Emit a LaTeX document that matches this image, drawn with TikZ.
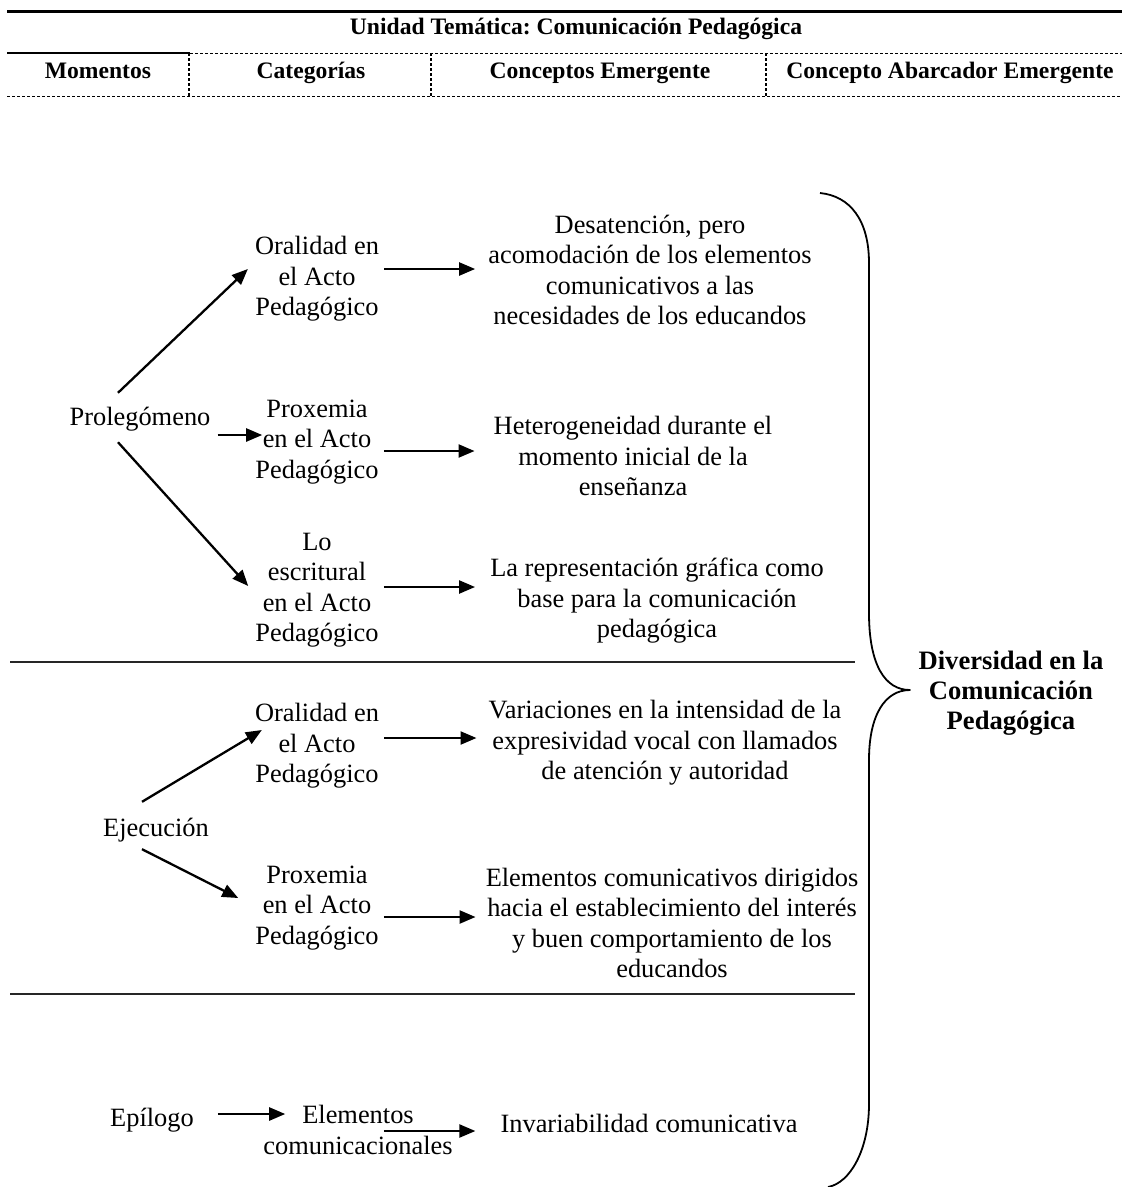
\documentclass[tikz,border=0pt]{standalone}
\usepackage{fontspec}
\setmainfont{Liberation Serif}
\usetikzlibrary{arrows.meta}
\frenchspacing

\begin{document}
\begin{tikzpicture}[x=1pt, y=-1pt, line join=round,
		txt/.style={align=center, inner sep=0pt, font=\fontsize{26.4}{30.5}\selectfont},
		hd/.style={anchor=base, inner sep=0pt, font=\fontsize{23.6}{27}\selectfont\bfseries},
		arr/.style={line width=2.3pt, -{Triangle[length=16pt,width=13pt]}},
		sep/.style={line width=1.8pt, black!85},
		dsh/.style={line width=1pt, dash pattern=on 3pt off 2pt}]
	\useasboundingbox (0,0) rectangle (1122,1187);
	% cabecera de la tabla
	\draw[line width=3pt] (7,11)--(1122,11);
	\node[hd] (tit) at (576,34) {Unidad Temática: Comunicación Pedagógica};
	\draw[line width=1.6pt] (7,53)--(190,53);
	\draw[dsh] (190,53)--(1122,53) (7,96)--(1122,96);
	\foreach \xc in {189,431,766} \draw[dsh, line width=1.8pt] (\xc,53)--(\xc,96);
	\node[hd] (mom) at (98,78) {Momentos};
	\node[hd] (cat) at (311,78) {Categorías};
	\node[hd] (con) at (600,78) {Conceptos Emergente};
	\node[hd] (abr) at (950,78) {Concepto Abarcador Emergente};
	% momentos
	\node[txt] (prol) at (140,419) {Prolegómeno};
	\node[txt] (ejec) at (156,830) {Ejecución};
	\node[txt] (epil) at (152,1120) {Epílogo};
	% categorias
	\node[txt] (oralA) at (317,279) {Oralidad en\\el Acto\\Pedagógico};
	\node[txt] (proxA) at (317,442) {Proxemia\\en el Acto\\Pedagógico};
	\node[txt] (escrA) at (317,590) {Lo\\escritural\\en el Acto\\Pedagógico};
	\node[txt] (oralB) at (317,746) {Oralidad en\\el Acto\\Pedagógico};
	\node[txt] (proxB) at (317,908) {Proxemia\\en el Acto\\Pedagógico};
	\node[txt] (elemC) at (358,1130) {Elementos\\comunicacionales};
	% conceptos emergentes
	\node[txt] (desat) at (650,270) {Desatención, pero\\acomodación de los elementos\\comunicativos a las\\necesidades de los educandos};
	\node[txt] (heter) at (633,456) {Heterogeneidad durante el\\momento inicial de la\\enseñanza};
	\node[txt] (repre) at (657,601) {La representación gráfica como\\base para la comunicación\\pedagógica};
	\node[txt] (varia) at (665,743) {Variaciones en la intensidad de la\\expresividad vocal con llamados\\de atención y autoridad};
	\node[txt] (eleme) at (672,923) {Elementos comunicativos dirigidos\\hacia el establecimiento del interés\\y buen comportamiento de los\\educandos};
	\node[txt] (invar) at (649,1123) {Invariabilidad comunicativa};
	% concepto abarcador
	\node[align=center, inner sep=0pt, font=\fontsize{26.6}{30}\selectfont\bfseries] (divers) at (1011,693) {Diversidad en la\\Comunicación\\Pedagógica};
	% flechas
	\draw[arr] ([shift={(-22,-14)}]prol.north) -- ([shift={(-7,-10)}]oralA.west);
	\draw[arr] ([shift={(7,16)}]prol.east) -- ([shift={(7,-7)}]proxA.west);
	\draw[arr] ([shift={(-22,11)}]prol.south) -- ([shift={(-7,-4)}]escrA.west);
	\draw[arr] ([shift={(-14,-16)}]ejec.north) -- ([shift={(7,-16)}]oralB.west);
	\draw[arr] ([shift={(-14,7)}]ejec.south) -- ([shift={(-17,-10)}]proxB.west);
	\draw[arr] ([shift={(24,-6)}]epil.east) -- ([shift={(22,-16)}]elemC.west);
	\draw[arr] ([shift={(5,-10)}]oralA.east) -- ([shift={(-13,-1)}]desat.west);
	\draw[arr] ([shift={(5,9)}]proxA.east) -- ([shift={(-19,-5)}]heter.west);
	\draw[arr] ([shift={(5,-3)}]escrA.east) -- ([shift={(-15,-14)}]repre.west);
	\draw[arr] ([shift={(5,-8)}]oralB.east) -- ([shift={(-12,-5)}]varia.west);
	\draw[arr] ([shift={(5,9)}]proxB.east) -- ([shift={(-10,-6)}]eleme.west);
	\draw[arr] ([shift={(-69,1)}]elemC.east) -- ([shift={(-25,8)}]invar.west);
	% separadores
	\draw[sep] (10,662)--(855,662) (10,994)--(855,994);
	% llave
	\draw[line width=1.8pt] (820,193) .. controls (850,196) and (869,220) .. (869,263) -- (869,613)
		.. controls (869,665) and (885,690) .. (910,690) .. controls (885,690) and (869,715) .. (869,760)
		-- (869,1104) .. controls (869,1150) and (850,1183) .. (828,1187);
\end{tikzpicture}
\end{document}
